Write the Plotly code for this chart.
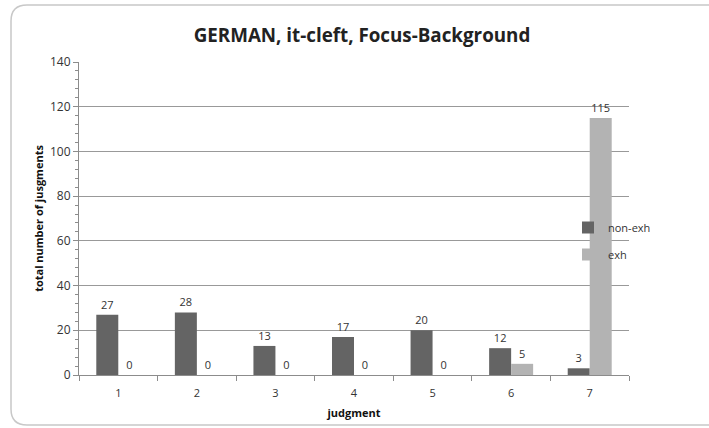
import plotly.graph_objects as go

# Judgment scale and counts per condition
judgments = ["1", "2", "3", "4", "5", "6", "7"]
non_exh = [27, 28, 13, 17, 20, 12, 3]
exh = [0, 0, 0, 0, 0, 5, 115]

W, H = 709, 428
ML, MR, MT, MB = 79, 80, 62, 53
PW, PH = W - ML - MR, H - MT - MB


def px_x(x):
    return (x - ML) / PW


def px_y(y):
    return (H - MB - y) / PH


FONT = "Open Sans"
TXT = "#333333"
LABEL_FONT = dict(family=FONT, size=11, color=TXT)

fig = go.Figure()
fig.add_trace(go.Bar(
    x=judgments, y=non_exh, name="non-exh", legendgroup="a",
    marker=dict(color="#646464", line=dict(width=0)),
    text=non_exh, textposition="outside", cliponaxis=False,
    textfont=LABEL_FONT, outsidetextfont=LABEL_FONT,
))
fig.add_trace(go.Bar(
    x=judgments, y=exh, name="exh", legendgroup="b",
    marker=dict(color="#b3b3b3", line=dict(width=0)),
    text=exh, textposition="outside", cliponaxis=False,
    textfont=LABEL_FONT, outsidetextfont=LABEL_FONT,
))

# Rounded outer frame
x0, x1 = px_x(11), px_x(716)
y0, y1 = px_y(425), px_y(5)
rx, ry = 16 / PW, 16 / PH
path = (f"M {x0 + rx},{y1} L {x1},{y1} L {x1},{y0} L {x0 + rx},{y0} "
        f"Q {x0},{y0} {x0},{y0 + ry} L {x0},{y1 - ry} Q {x0},{y1} {x0 + rx},{y1} Z")
fig.add_shape(type="path", xref="paper", yref="paper", path=path,
              line=dict(color="#c8c8c8", width=1.5), fillcolor="rgba(0,0,0,0)",
              layer="below")

fig.update_layout(
    width=W, height=H,
    margin=dict(l=ML, r=MR, t=MT, b=MB),
    paper_bgcolor="white", plot_bgcolor="white",
    barmode="group", bargap=0.44, bargroupgap=0,
    font=dict(family=FONT, size=11, color=TXT),
    title=dict(text="<b>GERMAN, it-cleft, Focus-Background</b>",
               x=362 / W, xanchor="center", y=1 - 35 / H, yanchor="middle",
               font=dict(family=FONT, size=18.8, color="#222222")),
    showlegend=True,
    legend=dict(x=px_x(568), y=px_y(241), xanchor="left", yanchor="middle",
                traceorder="grouped", tracegroupgap=8,
                font=dict(family=FONT, size=11, color=TXT),
                bgcolor="rgba(0,0,0,0)", itemwidth=30),
    xaxis=dict(
        type="category", showline=True, linecolor="#8c8c8c", linewidth=1,
        ticks="outside", tickson="boundaries", ticklen=5, tickcolor="#8c8c8c",
        showgrid=False, tickfont=dict(family=FONT, size=11, color=TXT),
        ticklabelstandoff=8, automargin=False,
        title=dict(text="<b>judgment</b>", standoff=10,
                   font=dict(family=FONT, size=11, color="#111111")),
    ),
    yaxis=dict(
        range=[0, 140], dtick=20, showline=True, linecolor="#8c8c8c", linewidth=1,
        ticks="outside", ticklen=5, tickcolor="#8c8c8c",
        minor=dict(dtick=4, ticks="outside", ticklen=3, tickcolor="#8c8c8c", showgrid=False),
        showgrid=True, gridcolor="#999999", gridwidth=1, zeroline=False,
        tickfont=dict(family=FONT, size=12, color=TXT), automargin=False,
        title=dict(text="<b>total number of jusgments</b>", standoff=4,
                   font=dict(family=FONT, size=11, color="#111111")),
    ),
)

fig.write_html("out.html")
